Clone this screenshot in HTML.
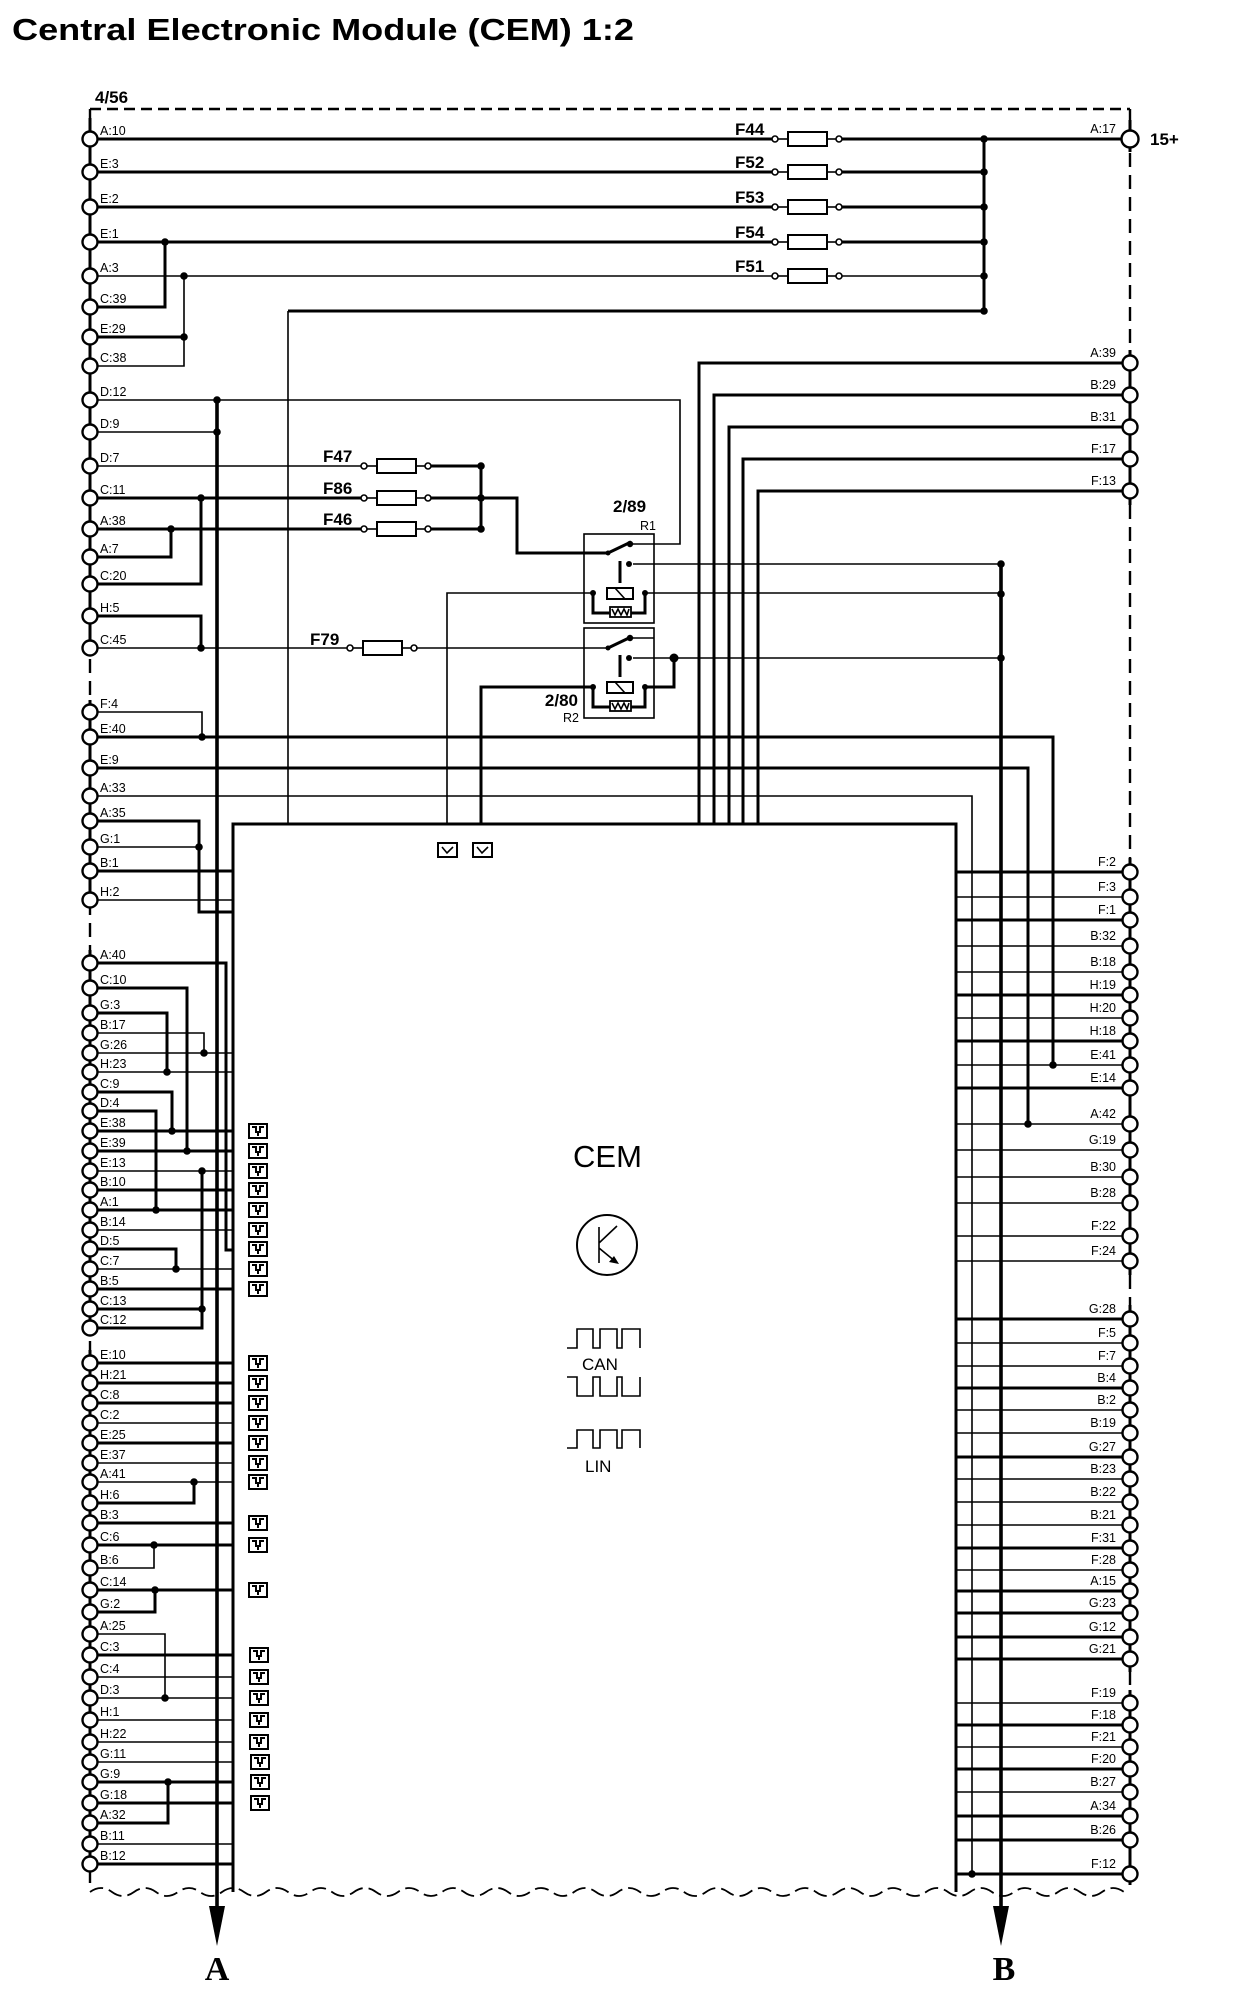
<!DOCTYPE html>
<html><head><meta charset="utf-8">
<style>
html,body{margin:0;padding:0;background:#fff;}
svg{display:block;}
.k{stroke:#000;stroke-width:3;fill:none;}
.t{stroke:#000;stroke-width:1.6;fill:none;}
.b{stroke:#000;stroke-width:3.6;fill:none;}
.c{stroke:#000;stroke-width:2.4;fill:#fff;}
.fc{stroke:#000;stroke-width:1.6;fill:#fff;}
.fr{stroke:#000;stroke-width:2;fill:#fff;}
.d{fill:#000;}
.l{font-family:"Liberation Sans",Arial,sans-serif;font-size:12.5px;fill:#000;}
.r{font-family:"Liberation Sans",Arial,sans-serif;font-size:12.5px;fill:#000;text-anchor:end;}
.f{font-family:"Liberation Sans",Arial,sans-serif;font-size:17px;font-weight:bold;fill:#000;}
</style></head>
<body>
<svg width="1248" height="2000" viewBox="0 0 1248 2000" xmlns="http://www.w3.org/2000/svg">
<defs>
<g id="ic"><rect x="1" y="1" width="18" height="14" fill="#fff" stroke="#000" stroke-width="2"/><path d="M4 4 H8 V9 H12 V4 H16 M10 9 V13" fill="none" stroke="#000" stroke-width="2"/></g>
<g id="fz"><circle cx="0" cy="0" r="3" class="fc"/><rect x="13" y="-7" width="39" height="14" class="fr"/><circle cx="64" cy="0" r="3" class="fc"/><line x1="3" y1="0" x2="13" y2="0" class="t"/><line x1="52" y1="0" x2="61" y2="0" class="t"/></g>
</defs>

<text x="12" y="40" font-family="Liberation Sans,Arial,sans-serif" font-size="31" font-weight="bold" textLength="622" lengthAdjust="spacingAndGlyphs">Central Electronic Module (CEM) 1:2</text>
<text x="95" y="103" class="f" font-size="15">4/56</text>

<!-- border -->
<path d="M90 109 H1130" stroke="#000" stroke-width="2.4" stroke-dasharray="11 6" fill="none"/>
<path d="M90 109 V1885" stroke="#000" stroke-width="2.4" stroke-dasharray="14 8" fill="none"/>
<path d="M1130 109 V1885" stroke="#000" stroke-width="2.4" stroke-dasharray="14 8" fill="none"/>
<path d="M90 1892 q11 -8 22 0 t22 0 t22 0 t22 0 t22 0 t22 0 t22 0 t22 0 t22 0 t22 0 t22 0 t22 0 t22 0 t22 0 t22 0 t22 0 t22 0 t22 0 t22 0 t22 0 t22 0 t22 0 t22 0 t22 0 t22 0 t22 0 t22 0 t22 0 t22 0 t22 0 t22 0 t22 0 t22 0 t22 0 t22 0 t22 0 t22 0 t22 0 t22 0 t22 0 t22 0 t22 0 t22 0 t22 0 t22 0 t22 0 t22 0" stroke="#000" stroke-width="1.8" stroke-dasharray="14 6" fill="none"/>

<!-- chain solid segments -->
<g class="k" stroke-width="2.4">
<path d="M90 118 V656"/><path d="M90 700 V908"/><path d="M90 950 V1336"/><path d="M90 1350 V1872"/>
<path d="M1130 120 V152"/><path d="M1130 350 V505"/><path d="M1130 858 V1275"/><path d="M1130 1305 V1672"/><path d="M1130 1690 V1885"/>
</g>

<!-- CEM box -->
<path d="M233 1892 V824 H956 V1892" class="k" stroke-width="2.2"/>

<!-- buses -->
<path d="M217 400 V1910" class="b"/>
<polygon points="209,1906 225,1906 217,1946" class="d"/>
<path d="M1001 564 V1910" class="b"/>
<polygon points="993,1906 1009,1906 1001,1946" class="d"/>
<text x="217" y="1980" text-anchor="middle" font-family="Liberation Serif,serif" font-weight="bold" font-size="34">A</text>
<text x="1004" y="1980" text-anchor="middle" font-family="Liberation Serif,serif" font-weight="bold" font-size="34">B</text>

<!-- top fuses -->
<path d="M90 139 H775 M840 139 H1130" class="k"/>
<path d="M90 172 H775 M840 172 H984" class="k"/>
<path d="M90 207 H775 M840 207 H984" class="k"/>
<path d="M90 242 H775 M840 242 H984" class="k"/>
<path d="M90 276 H775 M840 276 H984" class="t"/>
<path d="M984 139 V311 H288" class="k"/>
<path d="M288 311 V824" class="t"/>
<use href="#fz" x="775" y="139"/><use href="#fz" x="775" y="172"/><use href="#fz" x="775" y="207"/><use href="#fz" x="775" y="242"/><use href="#fz" x="775" y="276"/>
<text x="735" y="135" class="f">F44</text><text x="735" y="168" class="f">F52</text><text x="735" y="203" class="f">F53</text><text x="735" y="238" class="f">F54</text><text x="735" y="272" class="f">F51</text>
<g class="d"><circle cx="984" cy="139" r="3.8"/><circle cx="984" cy="172" r="3.8"/><circle cx="984" cy="207" r="3.8"/><circle cx="984" cy="242" r="3.8"/><circle cx="984" cy="276" r="3.8"/><circle cx="984" cy="311" r="3.8"/></g>
<text x="1116" y="133" class="r">A:17</text>
<text x="1150" y="145" class="f" font-size="16">15+</text>

<!-- left top wiring -->
<path d="M90 307 H165 V242" class="k"/>
<path d="M90 337 H184" class="k"/>
<path d="M90 366 H184 V276" class="t"/>
<path d="M90 400 H680 V544 H630" class="t"/>
<path d="M90 432 H217" class="t"/>
<path d="M90 466 H364" class="t"/>
<path d="M90 498 H364" class="k"/>
<path d="M90 529 H364" class="k"/>
<path d="M90 584 H201 V498" class="k"/>
<path d="M90 557 H171 V529" class="k"/>
<use href="#fz" x="364" y="466"/><use href="#fz" x="364" y="498"/><use href="#fz" x="364" y="529"/>
<text x="323" y="462" class="f">F47</text><text x="323" y="494" class="f">F86</text><text x="323" y="525" class="f">F46</text>
<path d="M431 466 H481 M431 529 H481 M481 466 V529" class="k"/>
<path d="M431 498 H517 V553 H608" class="k"/>
<path d="M90 616 H201 V648" class="k"/>
<path d="M90 648 H350" class="t"/>
<use href="#fz" x="350" y="648"/>
<text x="310" y="645" class="f">F79</text>
<path d="M416 648 H608" class="t"/>
<path d="M90 712 H202 V737" class="t"/>
<path d="M90 737 H1053 V1065" class="k"/>
<path d="M90 768 H1028 V1124" class="k"/>
<path d="M90 796 H972 V1874" class="t"/>
<path d="M90 821 H199 V912 H233" class="k"/>
<path d="M90 847 H199" class="t"/>
<path d="M90 871 H233" class="k"/>
<path d="M90 900 H233" class="t"/>
<g class="d">
<circle cx="165" cy="242" r="3.8"/><circle cx="184" cy="276" r="3.8"/><circle cx="184" cy="337" r="3.8"/>
<circle cx="217" cy="400" r="3.8"/><circle cx="217" cy="432" r="3.8"/>
<circle cx="201" cy="498" r="3.8"/><circle cx="171" cy="529" r="3.8"/>
<circle cx="481" cy="466" r="3.8"/><circle cx="481" cy="498" r="3.8"/><circle cx="481" cy="529" r="3.8"/>
<circle cx="201" cy="648" r="3.8"/><circle cx="202" cy="737" r="3.8"/><circle cx="199" cy="847" r="3.8"/>
<circle cx="1053" cy="1065" r="3.8"/><circle cx="1028" cy="1124" r="3.8"/><circle cx="972" cy="1874" r="3.8"/>
</g>

<!-- right top -->
<path d="M1130 363 H699 V824" class="k"/>
<path d="M1130 395 H714 V824" class="k"/>
<path d="M1130 427 H729 V824" class="k"/>
<path d="M1130 459 H743 V824" class="k"/>
<path d="M1130 491 H758 V824" class="k"/>

<!-- relays -->
<rect x="584" y="534" width="70" height="89" fill="none" stroke="#000" stroke-width="1.6"/>
<rect x="584" y="628" width="70" height="90" fill="none" stroke="#000" stroke-width="1.6"/>
<text x="613" y="512" class="f">2/89</text><text x="640" y="530" class="l">R1</text>
<text x="578" y="706" class="f" text-anchor="end">2/80</text><text x="563" y="722" class="l">R2</text>
<path d="M608 553 L631 542" class="k" stroke-width="2"/>
<path d="M608 648 L631 637" class="k" stroke-width="2"/>
<path d="M630 638 H654" class="t"/>
<path d="M620 561 V583 M620 655 V677" class="k" stroke-width="2"/>
<path d="M633 564 H1001 M645 593 H1001 M633 658 H1001" class="t" stroke-width="2"/>
<path d="M674 658 V687 H645" class="k" stroke-width="2"/>
<path d="M447 824 V593 H593" class="t" stroke-width="2"/>
<path d="M481 824 V687 H593" class="k"/>
<g>
<rect x="607" y="588" width="26" height="11" fill="#fff" stroke="#000" stroke-width="2"/><path d="M615 588 L625 599" class="t"/>
<path d="M593 593 V613 H645 V593" class="k" stroke-width="2.2"/>
<rect x="610" y="607" width="21" height="10" fill="#fff" stroke="#000" stroke-width="1.8"/><path d="M612 609 L615 615 L618 609 L621 615 L624 609 L627 615 L629 609" class="t" stroke-width="1.2"/>
<rect x="607" y="682" width="26" height="11" fill="#fff" stroke="#000" stroke-width="2"/><path d="M615 682 L625 693" class="t"/>
<path d="M593 687 V707 H645 V687" class="k" stroke-width="2.2"/>
<rect x="610" y="701" width="21" height="10" fill="#fff" stroke="#000" stroke-width="1.8"/><path d="M612 703 L615 709 L618 703 L621 709 L624 703 L627 709 L629 703" class="t" stroke-width="1.2"/>
</g>
<g class="d">
<circle cx="608" cy="553" r="2.5"/><circle cx="630" cy="544" r="3.2"/><circle cx="629" cy="564" r="3"/>
<circle cx="593" cy="593" r="3"/><circle cx="645" cy="593" r="3"/>
<circle cx="608" cy="648" r="2.5"/><circle cx="630" cy="638" r="3.2"/><circle cx="629" cy="658" r="3"/>
<circle cx="593" cy="687" r="3"/><circle cx="645" cy="687" r="3"/>
<circle cx="674" cy="658" r="4.5"/>
<circle cx="1001" cy="564" r="3.8"/><circle cx="1001" cy="594" r="3.8"/><circle cx="1001" cy="658" r="3.8"/>
</g>
<rect x="438" y="843" width="19" height="14" fill="#fff" stroke="#000" stroke-width="2"/><path d="M442 847 L447 853 L453 847" class="t" stroke-width="2"/>
<rect x="473" y="843" width="19" height="14" fill="#fff" stroke="#000" stroke-width="2"/><path d="M477 847 L482 853 L488 847" class="t" stroke-width="2"/>

<!-- left group 2/3 wiring -->
<path d="M90 963 H226 V1250 H233" class="k"/>
<path d="M90 988 H187 V1151" class="k"/>
<path d="M90 1013 H167 V1072" class="k"/>
<path d="M90 1033 H204 V1053" class="t"/>
<path d="M90 1053 H233 M90 1072 H233" class="t"/>
<path d="M90 1092 H172 V1131" class="k"/>
<path d="M90 1111 H156 V1210" class="k"/>
<path d="M90 1131 H233 M90 1151 H233" class="k"/>
<path d="M90 1171 H233" class="t"/>
<path d="M202 1171 V1328 H90" class="k"/>
<path d="M90 1309 H202" class="k"/>
<path d="M90 1190 H233 M90 1210 H233" class="k"/>
<path d="M90 1230 H233" class="t"/>
<path d="M90 1249 H176 V1269" class="k"/>
<path d="M90 1269 H233" class="t"/>
<path d="M90 1289 H233" class="k"/>
<path d="M90 1363 H233 M90 1383 H233 M90 1403 H233" class="k"/>
<path d="M90 1423 H233" class="t"/>
<path d="M90 1443 H233" class="k"/>
<path d="M90 1463 H233 M90 1482 H233" class="t"/>
<path d="M90 1503 H194 V1482" class="k"/>
<path d="M90 1523 H233 M90 1545 H233" class="k"/>
<path d="M90 1568 H154 V1545" class="t"/>
<path d="M90 1590 H233" class="k"/>
<path d="M90 1612 H155 V1590" class="k"/>
<path d="M90 1634 H165 V1698" class="t"/>
<path d="M90 1655 H233" class="k"/>
<path d="M90 1677 H233 M90 1698 H233 M90 1720 H233 M90 1742 H233" class="t"/>
<path d="M90 1762 H233" class="t" stroke-width="1.1"/>
<path d="M90 1782 H233 M90 1803 H233" class="k"/>
<path d="M90 1823 H168 V1782" class="k"/>
<path d="M90 1844 H233" class="t"/>
<path d="M90 1864 H233" class="k"/>
<g class="d">
<circle cx="187" cy="1151" r="3.8"/><circle cx="167" cy="1072" r="3.8"/><circle cx="204" cy="1053" r="3.8"/>
<circle cx="172" cy="1131" r="3.8"/><circle cx="156" cy="1210" r="3.8"/><circle cx="202" cy="1171" r="3.8"/>
<circle cx="202" cy="1309" r="3.8"/><circle cx="176" cy="1269" r="3.8"/><circle cx="194" cy="1482" r="3.8"/>
<circle cx="154" cy="1545" r="3.8"/><circle cx="155" cy="1590" r="3.8"/><circle cx="165" cy="1698" r="3.8"/>
<circle cx="168" cy="1782" r="3.8"/>
</g>

<!-- right rows -->
<path d="M956 872 H1130 M956 920 H1130 M956 995 H1130 M956 1041 H1130 M956 1088 H1130 M956 1319 H1130 M956 1388 H1130 M956 1457 H1130 M956 1548 H1130 M956 1591 H1130 M956 1613 H1130 M956 1637 H1130 M956 1659 H1130 M956 1725 H1130 M956 1769 H1130 M956 1816 H1130 M956 1840 H1130 M956 1874 H1130" class="k"/>
<path d="M956 897 H1130 M956 946 H1130 M956 972 H1130 M956 1018 H1130 M956 1065 H1130 M956 1124 H1130 M956 1150 H1130 M956 1177 H1130 M956 1203 H1130 M956 1236 H1130 M956 1261 H1130 M956 1343 H1130 M956 1366 H1130 M956 1410 H1130 M956 1433 H1130 M956 1479 H1130 M956 1502 H1130 M956 1525 H1130 M956 1570 H1130 M956 1703 H1130 M956 1747 H1130 M956 1792 H1130" class="t"/>

<!-- left icons -->
<g>
<use href="#ic" x="248" y="1123"/><use href="#ic" x="248" y="1143"/><use href="#ic" x="248" y="1163"/><use href="#ic" x="248" y="1182"/><use href="#ic" x="248" y="1202"/><use href="#ic" x="248" y="1222"/><use href="#ic" x="248" y="1241"/><use href="#ic" x="248" y="1261"/><use href="#ic" x="248" y="1281"/>
<use href="#ic" x="248" y="1355"/><use href="#ic" x="248" y="1375"/><use href="#ic" x="248" y="1395"/><use href="#ic" x="248" y="1415"/><use href="#ic" x="248" y="1435"/><use href="#ic" x="248" y="1455"/><use href="#ic" x="248" y="1474"/>
<use href="#ic" x="248" y="1515"/><use href="#ic" x="248" y="1537"/>
<use href="#ic" x="248" y="1582"/>
<use href="#ic" x="249" y="1647"/><use href="#ic" x="249" y="1669"/><use href="#ic" x="249" y="1690"/><use href="#ic" x="249" y="1712"/><use href="#ic" x="249" y="1734"/><use href="#ic" x="250" y="1754"/><use href="#ic" x="250" y="1774"/><use href="#ic" x="250" y="1795"/>
</g>

<!-- CEM interior -->
<text x="573" y="1167" font-family="Liberation Sans,Arial,sans-serif" font-size="31">CEM</text>
<circle cx="607" cy="1245" r="30" fill="none" stroke="#000" stroke-width="2"/>
<path d="M599 1227 V1263 M599 1243 L617 1226 M599 1248 L616 1262" class="t" stroke-width="2"/>
<polygon points="619,1264 609,1262 614,1256" class="d"/>
<path d="M567 1348 H577 V1329 H593 V1348 H600 V1329 H617 V1348 H622 V1329 H640 V1348" class="t" stroke-width="1.8"/>
<text x="582" y="1370" font-family="Liberation Sans,Arial,sans-serif" font-size="17">CAN</text>
<path d="M567 1377 H577 V1396 H593 V1377 H600 V1396 H617 V1377 H622 V1396 H640 V1377" class="t" stroke-width="1.8"/>
<path d="M567 1448 H577 V1430 H593 V1448 H600 V1430 H617 V1448 H622 V1430 H640 V1448" class="t" stroke-width="1.8"/>
<text x="585" y="1472" font-family="Liberation Sans,Arial,sans-serif" font-size="17">LIN</text>

<!-- connector circles left -->
<g class="c">
<circle cx="90" cy="139" r="7.5"/><circle cx="90" cy="172" r="7.5"/><circle cx="90" cy="207" r="7.5"/><circle cx="90" cy="242" r="7.5"/><circle cx="90" cy="276" r="7.5"/><circle cx="90" cy="307" r="7.5"/><circle cx="90" cy="337" r="7.5"/><circle cx="90" cy="366" r="7.5"/><circle cx="90" cy="400" r="7.5"/><circle cx="90" cy="432" r="7.5"/><circle cx="90" cy="466" r="7.5"/><circle cx="90" cy="498" r="7.5"/><circle cx="90" cy="529" r="7.5"/><circle cx="90" cy="557" r="7.5"/><circle cx="90" cy="584" r="7.5"/><circle cx="90" cy="616" r="7.5"/><circle cx="90" cy="648" r="7.5"/>
<circle cx="90" cy="712" r="7.5"/><circle cx="90" cy="737" r="7.5"/><circle cx="90" cy="768" r="7.5"/><circle cx="90" cy="796" r="7.5"/><circle cx="90" cy="821" r="7.5"/><circle cx="90" cy="847" r="7.5"/><circle cx="90" cy="871" r="7.5"/><circle cx="90" cy="900" r="7.5"/>
<circle cx="90" cy="963" r="7.5"/><circle cx="90" cy="988" r="7.5"/><circle cx="90" cy="1013" r="7.5"/><circle cx="90" cy="1033" r="7.5"/><circle cx="90" cy="1053" r="7.5"/><circle cx="90" cy="1072" r="7.5"/><circle cx="90" cy="1092" r="7.5"/><circle cx="90" cy="1111" r="7.5"/><circle cx="90" cy="1131" r="7.5"/><circle cx="90" cy="1151" r="7.5"/><circle cx="90" cy="1171" r="7.5"/><circle cx="90" cy="1190" r="7.5"/><circle cx="90" cy="1210" r="7.5"/><circle cx="90" cy="1230" r="7.5"/><circle cx="90" cy="1249" r="7.5"/><circle cx="90" cy="1269" r="7.5"/><circle cx="90" cy="1289" r="7.5"/><circle cx="90" cy="1309" r="7.5"/><circle cx="90" cy="1328" r="7.5"/>
<circle cx="90" cy="1363" r="7.5"/><circle cx="90" cy="1383" r="7.5"/><circle cx="90" cy="1403" r="7.5"/><circle cx="90" cy="1423" r="7.5"/><circle cx="90" cy="1443" r="7.5"/><circle cx="90" cy="1463" r="7.5"/><circle cx="90" cy="1482" r="7.5"/><circle cx="90" cy="1503" r="7.5"/><circle cx="90" cy="1523" r="7.5"/><circle cx="90" cy="1545" r="7.5"/><circle cx="90" cy="1568" r="7.5"/><circle cx="90" cy="1590" r="7.5"/><circle cx="90" cy="1612" r="7.5"/><circle cx="90" cy="1634" r="7.5"/><circle cx="90" cy="1655" r="7.5"/><circle cx="90" cy="1677" r="7.5"/><circle cx="90" cy="1698" r="7.5"/><circle cx="90" cy="1720" r="7.5"/><circle cx="90" cy="1742" r="7.5"/><circle cx="90" cy="1762" r="7.5"/><circle cx="90" cy="1782" r="7.5"/><circle cx="90" cy="1803" r="7.5"/><circle cx="90" cy="1823" r="7.5"/><circle cx="90" cy="1844" r="7.5"/><circle cx="90" cy="1864" r="7.5"/>
</g>
<!-- connector circles right -->
<g class="c">
<circle cx="1130" cy="139" r="8.5"/>
<circle cx="1130" cy="363" r="7.5"/><circle cx="1130" cy="395" r="7.5"/><circle cx="1130" cy="427" r="7.5"/><circle cx="1130" cy="459" r="7.5"/><circle cx="1130" cy="491" r="7.5"/>
<circle cx="1130" cy="872" r="7.5"/><circle cx="1130" cy="897" r="7.5"/><circle cx="1130" cy="920" r="7.5"/><circle cx="1130" cy="946" r="7.5"/><circle cx="1130" cy="972" r="7.5"/><circle cx="1130" cy="995" r="7.5"/><circle cx="1130" cy="1018" r="7.5"/><circle cx="1130" cy="1041" r="7.5"/><circle cx="1130" cy="1065" r="7.5"/><circle cx="1130" cy="1088" r="7.5"/><circle cx="1130" cy="1124" r="7.5"/><circle cx="1130" cy="1150" r="7.5"/><circle cx="1130" cy="1177" r="7.5"/><circle cx="1130" cy="1203" r="7.5"/><circle cx="1130" cy="1236" r="7.5"/><circle cx="1130" cy="1261" r="7.5"/>
<circle cx="1130" cy="1319" r="7.5"/><circle cx="1130" cy="1343" r="7.5"/><circle cx="1130" cy="1366" r="7.5"/><circle cx="1130" cy="1388" r="7.5"/><circle cx="1130" cy="1410" r="7.5"/><circle cx="1130" cy="1433" r="7.5"/><circle cx="1130" cy="1457" r="7.5"/><circle cx="1130" cy="1479" r="7.5"/><circle cx="1130" cy="1502" r="7.5"/><circle cx="1130" cy="1525" r="7.5"/><circle cx="1130" cy="1548" r="7.5"/><circle cx="1130" cy="1570" r="7.5"/><circle cx="1130" cy="1591" r="7.5"/><circle cx="1130" cy="1613" r="7.5"/><circle cx="1130" cy="1637" r="7.5"/><circle cx="1130" cy="1659" r="7.5"/>
<circle cx="1130" cy="1703" r="7.5"/><circle cx="1130" cy="1725" r="7.5"/><circle cx="1130" cy="1747" r="7.5"/><circle cx="1130" cy="1769" r="7.5"/><circle cx="1130" cy="1792" r="7.5"/><circle cx="1130" cy="1816" r="7.5"/><circle cx="1130" cy="1840" r="7.5"/><circle cx="1130" cy="1874" r="7.5"/>
</g>

<!-- left labels -->
<g class="l">
<text x="100" y="135">A:10</text><text x="100" y="168">E:3</text><text x="100" y="203">E:2</text><text x="100" y="238">E:1</text><text x="100" y="272">A:3</text><text x="100" y="303">C:39</text><text x="100" y="333">E:29</text><text x="100" y="362">C:38</text><text x="100" y="396">D:12</text><text x="100" y="428">D:9</text><text x="100" y="462">D:7</text><text x="100" y="494">C:11</text><text x="100" y="525">A:38</text><text x="100" y="553">A:7</text><text x="100" y="580">C:20</text><text x="100" y="612">H:5</text><text x="100" y="644">C:45</text>
<text x="100" y="708">F:4</text><text x="100" y="733">E:40</text><text x="100" y="764">E:9</text><text x="100" y="792">A:33</text><text x="100" y="817">A:35</text><text x="100" y="843">G:1</text><text x="100" y="867">B:1</text><text x="100" y="896">H:2</text>
<text x="100" y="959">A:40</text><text x="100" y="984">C:10</text><text x="100" y="1009">G:3</text><text x="100" y="1029">B:17</text><text x="100" y="1049">G:26</text><text x="100" y="1068">H:23</text><text x="100" y="1088">C:9</text><text x="100" y="1107">D:4</text><text x="100" y="1127">E:38</text><text x="100" y="1147">E:39</text><text x="100" y="1167">E:13</text><text x="100" y="1186">B:10</text><text x="100" y="1206">A:1</text><text x="100" y="1226">B:14</text><text x="100" y="1245">D:5</text><text x="100" y="1265">C:7</text><text x="100" y="1285">B:5</text><text x="100" y="1305">C:13</text><text x="100" y="1324">C:12</text>
<text x="100" y="1359">E:10</text><text x="100" y="1379">H:21</text><text x="100" y="1399">C:8</text><text x="100" y="1419">C:2</text><text x="100" y="1439">E:25</text><text x="100" y="1459">E:37</text><text x="100" y="1478">A:41</text><text x="100" y="1499">H:6</text><text x="100" y="1519">B:3</text><text x="100" y="1541">C:6</text><text x="100" y="1564">B:6</text><text x="100" y="1586">C:14</text><text x="100" y="1608">G:2</text><text x="100" y="1630">A:25</text><text x="100" y="1651">C:3</text><text x="100" y="1673">C:4</text><text x="100" y="1694">D:3</text><text x="100" y="1716">H:1</text><text x="100" y="1738">H:22</text><text x="100" y="1758">G:11</text><text x="100" y="1778">G:9</text><text x="100" y="1799">G:18</text><text x="100" y="1819">A:32</text><text x="100" y="1840">B:11</text><text x="100" y="1860">B:12</text>
</g>
<!-- right labels -->
<g class="r">
<text x="1116" y="357">A:39</text><text x="1116" y="389">B:29</text><text x="1116" y="421">B:31</text><text x="1116" y="453">F:17</text><text x="1116" y="485">F:13</text>
<text x="1116" y="866">F:2</text><text x="1116" y="891">F:3</text><text x="1116" y="914">F:1</text><text x="1116" y="940">B:32</text><text x="1116" y="966">B:18</text><text x="1116" y="989">H:19</text><text x="1116" y="1012">H:20</text><text x="1116" y="1035">H:18</text><text x="1116" y="1059">E:41</text><text x="1116" y="1082">E:14</text><text x="1116" y="1118">A:42</text><text x="1116" y="1144">G:19</text><text x="1116" y="1171">B:30</text><text x="1116" y="1197">B:28</text><text x="1116" y="1230">F:22</text><text x="1116" y="1255">F:24</text>
<text x="1116" y="1313">G:28</text><text x="1116" y="1337">F:5</text><text x="1116" y="1360">F:7</text><text x="1116" y="1382">B:4</text><text x="1116" y="1404">B:2</text><text x="1116" y="1427">B:19</text><text x="1116" y="1451">G:27</text><text x="1116" y="1473">B:23</text><text x="1116" y="1496">B:22</text><text x="1116" y="1519">B:21</text><text x="1116" y="1542">F:31</text><text x="1116" y="1564">F:28</text><text x="1116" y="1585">A:15</text><text x="1116" y="1607">G:23</text><text x="1116" y="1631">G:12</text><text x="1116" y="1653">G:21</text>
<text x="1116" y="1697">F:19</text><text x="1116" y="1719">F:18</text><text x="1116" y="1741">F:21</text><text x="1116" y="1763">F:20</text><text x="1116" y="1786">B:27</text><text x="1116" y="1810">A:34</text><text x="1116" y="1834">B:26</text><text x="1116" y="1868">F:12</text>
</g>
</svg>
</body></html>
